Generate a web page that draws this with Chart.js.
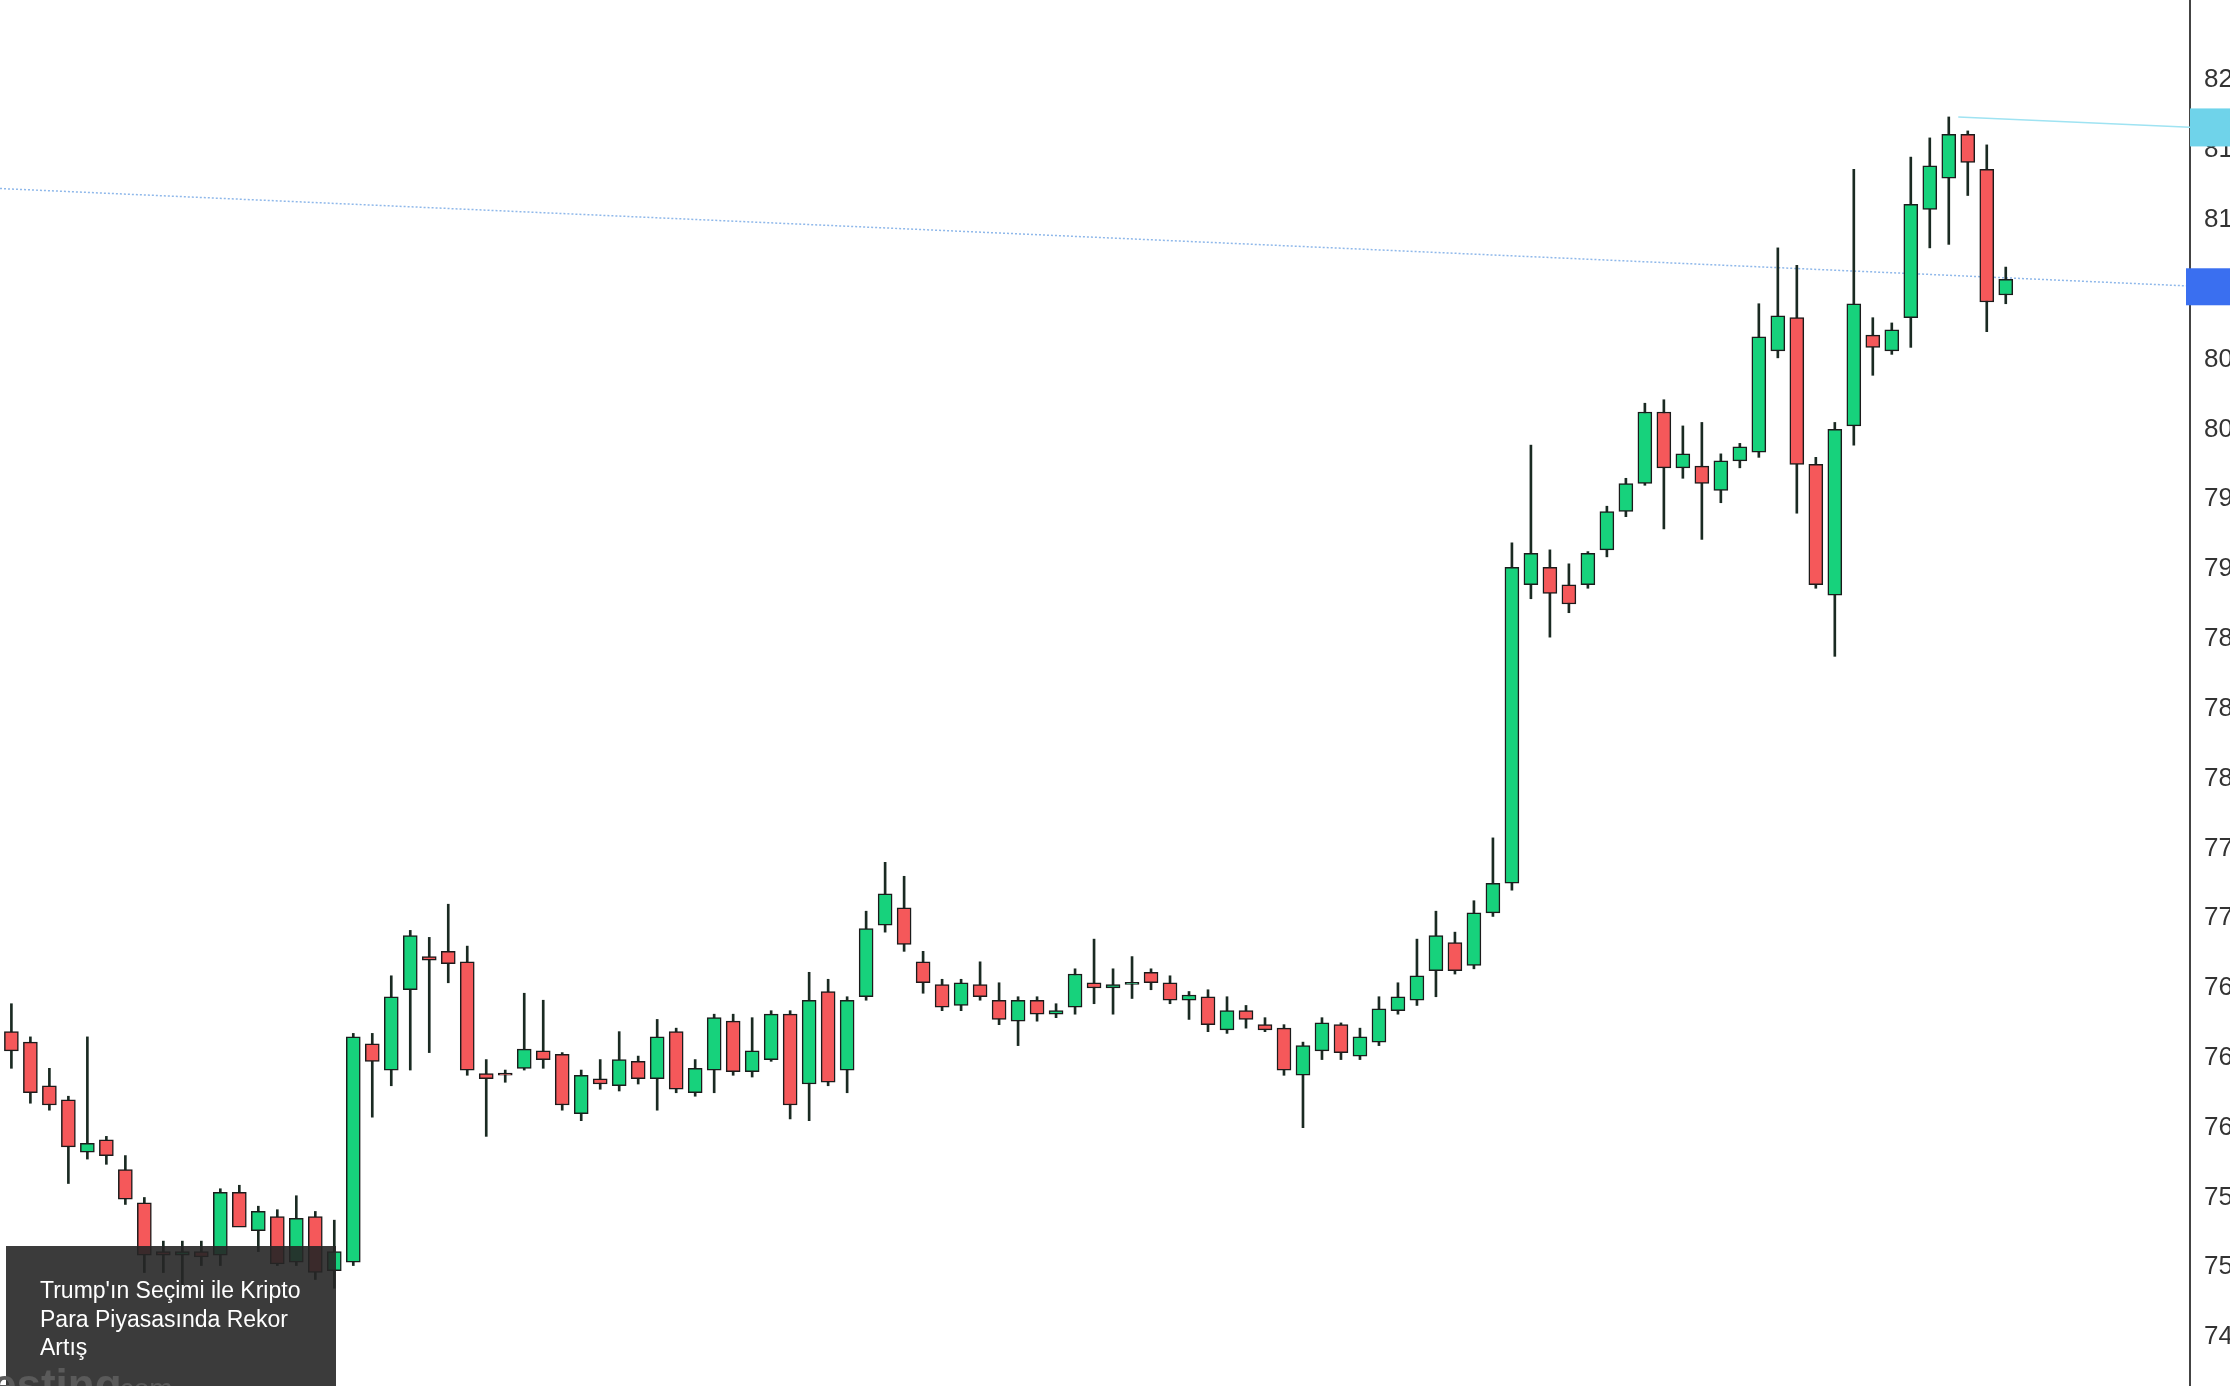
<!DOCTYPE html>
<html><head><meta charset="utf-8">
<script src="https://cdn.jsdelivr.net/npm/chart.js@4.4.1/dist/chart.umd.min.js"></script>
<style>html,body{margin:0;padding:0;overflow:hidden;background:#fff}#wrap{width:2290px;height:1386px;position:relative}</style>
</head><body><div id="wrap"><canvas id="c"></canvas></div>
<script>
const opens=[765.5,764.9,762.4,761.6,758.6,759.3,757.6,755.7,752.9,752.7,752.9,752.7,756.3,754.1,754.9,752.3,754.9,751.8,752.3,764.8,763.3,767.9,769.8,770.1,769.5,763.1,763.0,763.4,764.4,764.2,760.8,762.8,762.4,763.8,762.8,765.5,762.0,763.3,766.1,763.2,763.9,766.5,762.5,767.8,763.3,767.5,771.6,772.6,769.5,768.2,767.0,768.2,767.3,766.1,767.3,766.5,766.9,768.3,768.0,768.2,768.9,768.3,767.3,767.5,765.6,766.7,765.9,765.7,763.0,764.4,765.9,764.1,764.9,766.7,767.3,769.0,770.6,769.3,772.3,774.0,791.1,792.1,791.1,791.1,793.1,795.3,796.9,801.0,797.8,797.9,796.5,798.2,798.7,804.5,806.4,798.0,790.5,800.2,805.4,804.5,806.4,812.6,814.4,816.9,814.9,807.7];
const highs=[767.1,765.2,763.4,761.8,765.2,759.5,758.4,756.0,753.5,753.5,753.5,756.5,756.7,755.5,755.3,756.1,755.2,754.7,765.4,765.4,768.7,771.3,770.9,772.8,770.4,763.9,763.3,767.7,767.3,764.3,763.3,763.9,765.5,764.1,766.2,765.7,763.9,766.5,766.5,766.3,766.7,766.7,768.9,768.5,767.5,772.4,775.2,774.4,770.1,768.5,768.5,769.5,768.3,767.5,767.5,767.1,769.1,770.8,769.1,769.8,769.1,768.7,767.8,767.9,767.5,767.0,766.3,765.9,764.9,766.3,766.0,765.7,767.5,768.3,770.8,772.4,771.2,773.0,776.6,793.5,799.1,793.1,792.3,793.0,795.6,797.2,801.5,801.7,800.2,800.4,798.6,799.2,807.2,810.4,809.4,798.4,800.4,814.9,806.4,806.1,815.6,816.7,817.9,817.1,816.3,809.3];
const lows=[763.4,761.4,761.0,756.8,758.2,757.9,755.6,751.7,751.7,750.8,752.1,752.1,754.9,752.9,752.1,752.1,751.3,750.8,752.1,760.6,762.4,763.3,764.3,768.3,763.0,759.5,762.6,763.3,763.4,761.0,760.4,762.2,762.1,762.5,761.0,762.0,761.8,762.0,763.0,762.9,763.8,760.5,760.4,762.4,762.0,767.3,771.2,770.1,767.7,766.7,766.7,767.3,765.9,764.7,766.1,766.3,766.5,767.1,766.5,767.4,767.9,767.1,766.2,765.5,765.4,765.7,765.5,763.0,760.0,763.9,763.9,763.9,764.7,766.5,767.0,767.5,768.8,769.1,772.1,773.6,790.3,788.1,789.5,790.9,792.7,795.0,796.8,794.3,797.2,793.7,795.8,797.8,798.4,804.1,795.2,790.9,787.0,799.1,803.1,804.3,804.7,810.4,810.6,813.4,805.6,807.2];
const closes=[764.4,762.0,761.3,758.9,759.1,758.4,755.9,752.7,752.7,752.9,752.6,756.3,754.3,755.2,752.2,754.8,751.7,752.9,765.2,763.8,767.5,771.0,769.6,769.4,763.3,762.8,762.96,764.5,763.9,761.3,763.0,762.5,763.9,762.8,765.2,762.2,763.4,766.3,763.2,764.4,766.5,761.3,767.3,762.6,767.3,771.4,773.4,770.5,768.3,766.9,768.3,767.5,766.2,767.3,766.5,766.7,768.8,768.0,768.2,768.3,768.3,767.3,767.6,765.9,766.7,766.2,765.6,763.3,764.7,766.0,764.3,765.2,766.8,767.5,768.7,771.0,769.0,772.3,774.0,792.1,792.9,790.6,790.0,792.9,795.3,796.9,801.0,797.8,798.6,796.9,798.2,799.0,805.3,806.5,798.0,791.1,800.0,807.2,804.7,805.7,812.9,815.1,816.9,815.3,807.3,808.6];
const tickValues=[748,752,756,760,764,768,772,776,780,784,788,792,796,800,804,808,812,816,820];
const supportLine=[813.8,808.2];
const resistLine=[817.9,817.3];
const caption=["Trump'ın Seçimi ile Kripto","Para Piyasasında Rekor","Artış"];

const GREEN='#17d27c', RED='#f5585a';
const idx=opens.map((_,i)=>i);
const up=idx.map(i=>closes[i]>=opens[i]);
const body=idx.map(i=>{let a=opens[i],b=closes[i];if(Math.abs(a-b)<0.12){b=a+0.12;}return {x:i,y:[Math.min(a,b),Math.max(a,b)]};});
const wick=idx.map(i=>({x:i,y:[lows[i],highs[i]]}));
const overlay={id:'ov',afterDraw(ch){
  const c=ch.ctx,ys=ch.scales.y;
  c.save();
  let y1=ys.getPixelForValue(supportLine[1]);
  c.fillStyle='#3a6ff0';c.fillRect(2186,y1-18,50,37);
  let y2=ys.getPixelForValue(resistLine[1]);
  c.fillStyle='#6fd3ea';c.fillRect(2190,y2-19,50,38);
  c.fillStyle='rgba(38,38,38,0.9)';c.fillRect(6,1246,330,140);
  c.fillStyle='#5a5a5a';c.font='bold 44px "Liberation Sans",Arial';c.fillText('esting',-8,1400);
  c.font='28px "Liberation Sans",Arial';c.fillText('.com',112,1398);
  c.fillStyle='#fff';c.font='23px "Liberation Sans",Arial';
  caption.forEach((t,k)=>c.fillText(t,40,1298+k*28.5));
  c.restore();}};
new Chart(document.getElementById('c'),{
 type:'bar',
 data:{datasets:[
  {type:'line',data:[{x:-0.6,y:supportLine[0]},{x:115,y:supportLine[1]}],borderColor:'#8fb8ea',borderWidth:1.5,borderDash:[2,2],pointRadius:0,order:3},
  {type:'line',data:[{x:102.5,y:resistLine[0]},{x:115,y:resistLine[1]}],borderColor:'#9fe3f2',borderWidth:1.5,pointRadius:0,order:3},
  {data:wick,backgroundColor:'#1a2a22',barThickness:2,grouped:false,order:2},
  {data:body,backgroundColor:idx.map(i=>up[i]?GREEN:RED),borderColor:'#1b1b1b',borderWidth:1.5,borderSkipped:false,barThickness:14,grouped:false,order:1}
 ]},
 options:{responsive:true,maintainAspectRatio:false,animation:false,
  plugins:{legend:{display:false},tooltip:{enabled:false}},
  layout:{padding:0},
  scales:{
   x:{type:'linear',min:-0.6,max:114.7,display:false,offset:false,bounds:'ticks'},
   y:{position:'right',min:745.2,max:824.6,grid:{display:false,drawTicks:true},
      border:{display:true,color:'#444',width:2},
      afterBuildTicks(s){s.ticks=tickValues.map(v=>({value:v}));},
      afterFit(s){s.width=100;s.paddingTop=0;s.paddingBottom=0;},
      ticks:{color:'#333',font:{size:26,family:'"Liberation Sans",Arial'},padding:6,callback:v=>String(v)}}
  }},
 plugins:[overlay]});
</script></body></html>
